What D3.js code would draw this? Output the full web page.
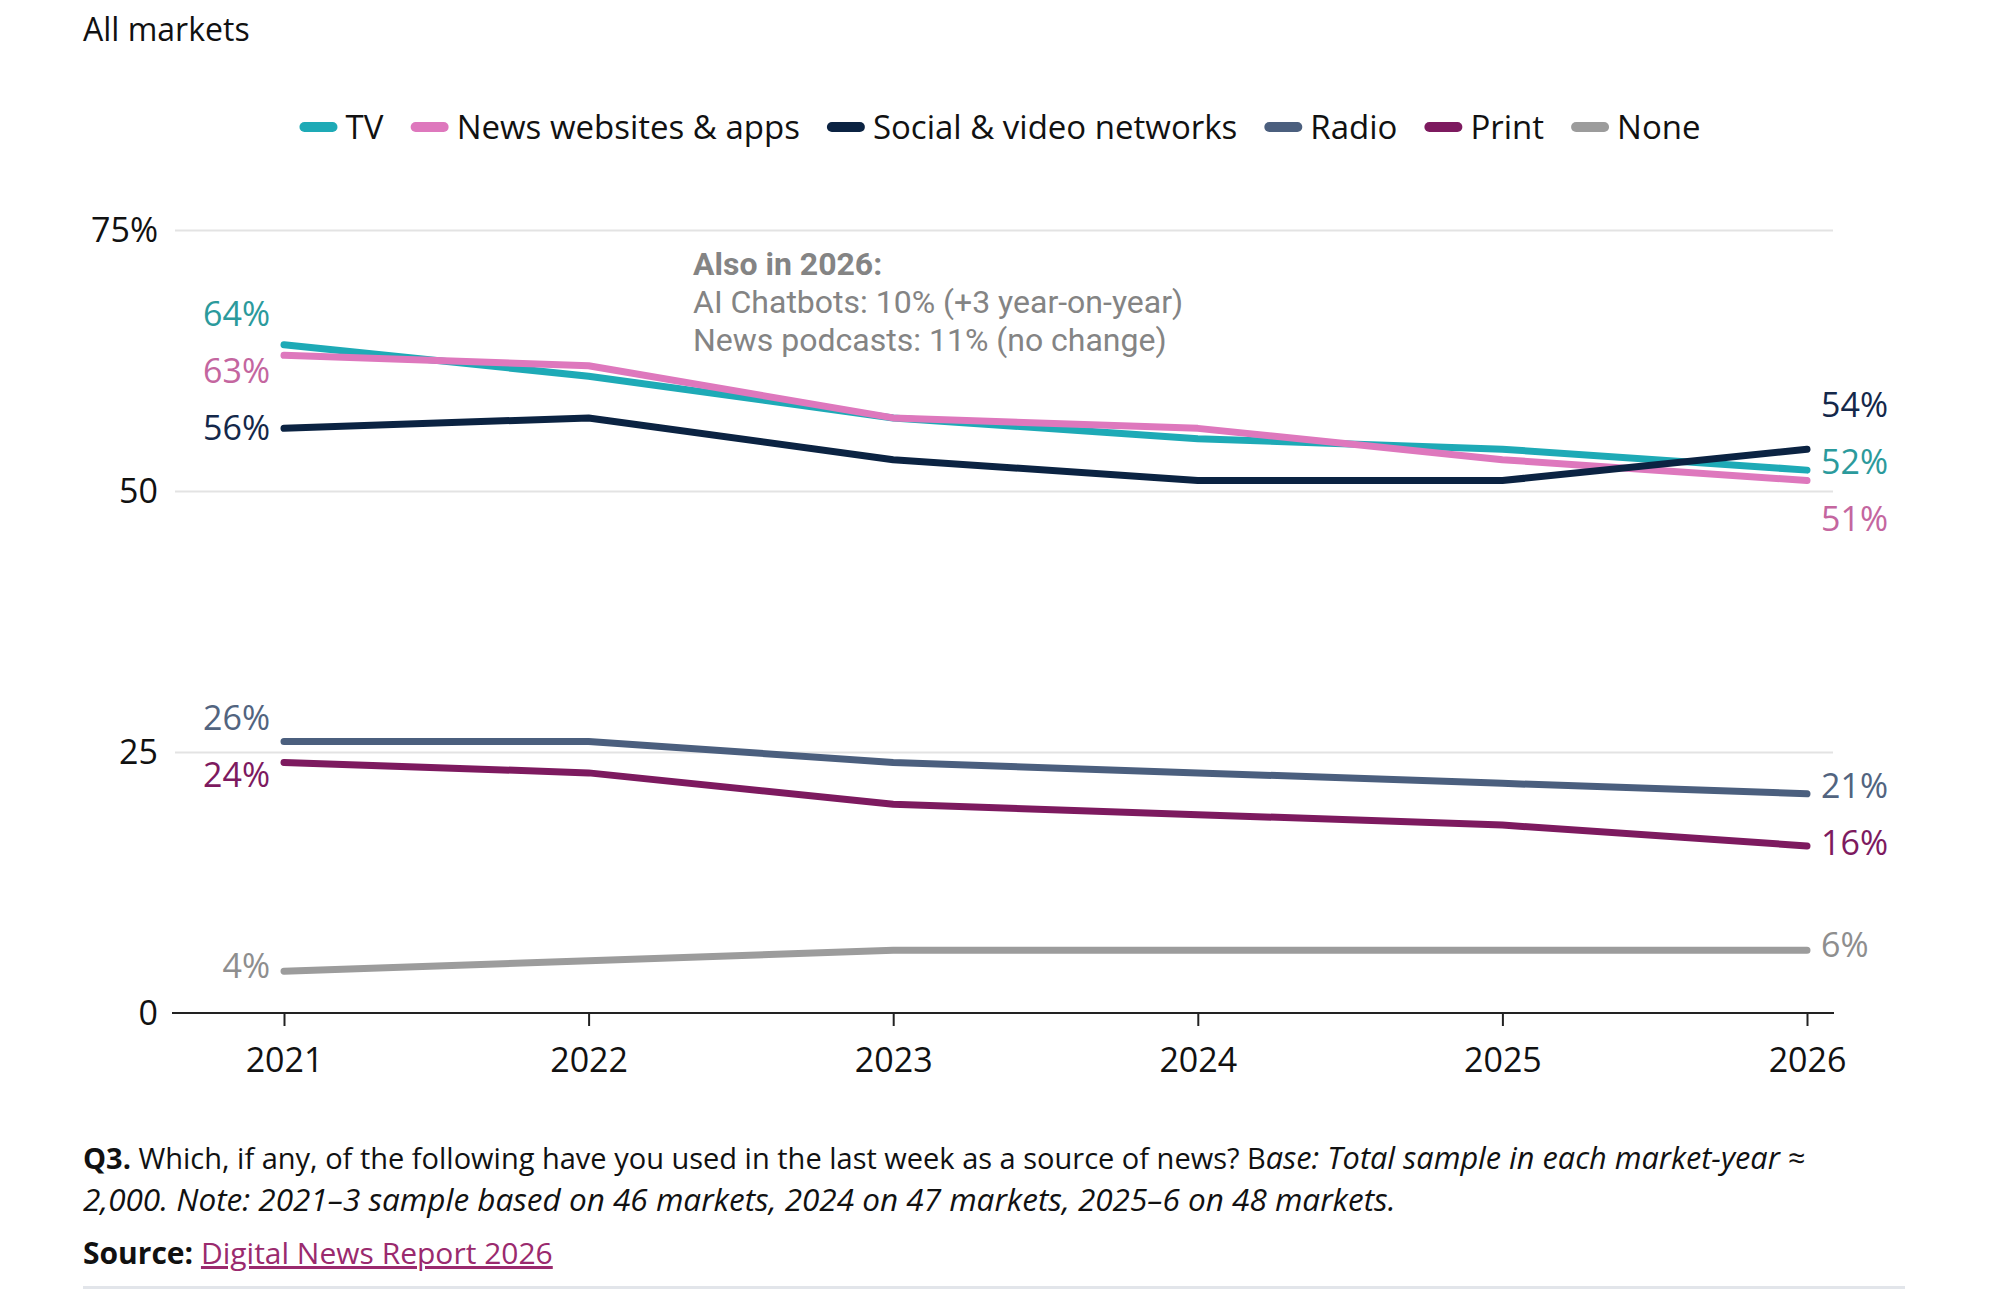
<!DOCTYPE html>
<html>
<head>
  <meta charset="utf-8">
  <style type="text/css">
	body {
		margin: 0;
		background: #fff;
		font-family: "Open Sans", "Noto Sans", sans-serif;
	}
	.grid line {
		stroke: #e3e3e3;
		stroke-width: 2;
	}
	.grid .domain {
		display: none;
	}
	.axis text {
		font-size: 34px;
		fill: #111;
	}
	</style>
</head>
<body>
<svg width="2000" height="1306"></svg>
<script src="https://d3js.org/d3.v7.min.js"></script>
<script>
		// data
		var years = [2021, 2022, 2023, 2024, 2025, 2026];
		var seriesNames = ["TV", "News websites & apps", "Social & video networks", "Radio", "Print", "None"];
		var tv = [64, 61, 57, 55, 54, 52];
		var newsSites = [63, 62, 57, 56, 53, 51];
		var social = [56, 57, 53, 51, 51, 54];
		var radio = [26, 26, 24, 23, 22, 21];
		var print = [24, 23, 20, 19, 18, 16];
		var none = [4, 5, 6, 6, 6, 6];
		var yTicks = [0, 25, 50, 75];
		var lineColors = ["#1eaab6", "#de78bd", "#0b2342", "#4b5f7e", "#7d1a5f", "#9c9c9c"];
		var labelColors = ["#2b9a9c", "#c4669f", "#14284a", "#52647f", "#7d1a5f", "#8e8e8e"];
		var notes = ["Also in 2026:", "AI Chatbots: 10% (+3 year-on-year)", "News podcasts: 11% (no change)"];

		var values = [tv, newsSites, social, radio, print, none];
		var series = seriesNames.map(function(name, i) {
			return {name: name, values: values[i], color: lineColors[i], labelColor: labelColors[i]};
		});

		var svg = d3.select("svg");

		var x = d3.scalePoint()
				.domain(years)
				.range([284, 1807]);

		var y = d3.scaleLinear()
				.domain([0, 75])
				.range([1013, 230]);

		// title
		svg.append("text")
				.attr("x", 83)
				.attr("y", 41)
				.attr("font-size", 32)
				.attr("fill", "#111")
				.text("All markets");

		// legend, centred on the page
		var legend = svg.append("g")
				.attr("font-size", 33)
				.attr("fill", "#111");
		var lx = 0;
		var items = legend.selectAll("g")
			.data(series)
			.enter().append("g");
		items.append("rect")
				.attr("y", -5)
				.attr("width", 38)
				.attr("height", 10)
				.attr("rx", 5)
				.attr("fill", function(d) { return d.color; });
		items.append("text")
				.attr("x", 46)
				.attr("dy", "0.35em")
				.text(function(d) { return d.name; });
		items.each(function() {
			var w = this.getBBox().width;
			d3.select(this).attr("transform", "translate(" + lx + ",0)");
			lx += w + 27;
		});
		lx -= 27;
		legend.attr("transform", "translate(" + (1000 - lx / 2) + ",127)");

		// gridlines
		svg.append("g")
				.attr("class", "grid")
				.attr("transform", "translate(175,0)")
				.call(d3.axisLeft(y).tickValues(yTicks.slice(1)).tickSize(-1658).tickFormat(""));

		// y tick labels
		svg.append("g")
				.attr("class", "axis")
				.selectAll("text")
			.data(yTicks)
			.enter().append("text")
				.attr("x", 158)
				.attr("y", function(d) { return y(d); })
				.attr("dy", "0.35em")
				.attr("text-anchor", "end")
				.text(function(d) { return d === 75 ? d + "%" : d; });

		// x axis
		var xAxis = svg.append("g")
				.attr("class", "axis")
				.attr("transform", "translate(0," + y(0) + ")")
				.call(d3.axisBottom(x).tickSize(13).tickPadding(22).tickSizeOuter(0));
		xAxis.select(".domain")
				.attr("d", "M172,0H1834")
				.attr("stroke", "#222")
				.attr("stroke-width", 2);
		xAxis.selectAll(".tick line")
				.attr("stroke", "#222")
				.attr("stroke-width", 2);
		xAxis.selectAll(".tick text")
				.attr("font-family", "'Open Sans', sans-serif");

		// annotation (tighter font so the three lines don't collide)
		svg.append("g")
				.attr("font-family", "Roboto, sans-serif")
				.attr("font-size", 32)
				.attr("fill", "#848484")
				.selectAll("text")
			.data(notes)
			.enter().append("text")
				.attr("x", 693)
				.attr("y", function(d, i) { return 264 + i * 38; })
				.attr("dy", "0.35em")
				.attr("font-weight", function(d, i) { return i === 0 ? "bold" : null; })
				.text(function(d) { return d; });

		// lines
		var line = d3.line()
				.x(function(d, i) { return x(years[i]); })
				.y(function(d) { return y(d); });

		svg.append("g")
				.selectAll("path")
			.data(series)
			.enter().append("path")
				.attr("d", function(d) { return line(d.values); })
				.attr("fill", "none")
				.attr("stroke", function(d) { return d.color; })
				.attr("stroke-width", 7)
				.attr("stroke-linecap", "round")
				.attr("stroke-linejoin", "round");

		// end labels, spread apart when they collide
		function dodge(labels, gap) {
			labels.sort(function(a, b) { return a.y - b.y; });
			for (var k = 0; k < 60; k++) {
				for (var i = 1; i < labels.length; i++) {
					var over = gap - (labels[i].y - labels[i - 1].y);
					if (over > 0) {
						labels[i - 1].y -= over / 2;
						labels[i].y += over / 2;
					}
				}
			}
			return labels;
		}

		function endLabels(index, xPos, anchor) {
			var labels = series.map(function(s) {
				return {text: s.values[index] + "%", y: y(s.values[index]), color: s.labelColor};
			});
			svg.append("g")
					.attr("font-size", 34)
					.attr("text-anchor", anchor)
					.selectAll("text")
				.data(dodge(labels, 57))
				.enter().append("text")
					.attr("x", xPos)
					.attr("y", function(d) { return d.y - 5; })
					.attr("dy", "0.35em")
					.attr("fill", function(d) { return d.color; })
					.text(function(d) { return d.text; });
		}
		endLabels(0, x(years[0]) - 14, "end");
		endLabels(years.length - 1, x(years[years.length - 1]) + 14, "start");

		// footnote
		var foot = svg.append("g")
				.attr("font-size", 30)
				.attr("fill", "#111");
		var l1 = foot.append("text").attr("x", 83).attr("y", 1169).attr("font-size", 29);
		l1.append("tspan").attr("font-weight", "bold").text("Q3.");
		l1.append("tspan").text(" Which, if any, of the following have you used in the last week as a source of news? B");
		l1.append("tspan").attr("font-style", "italic").attr("font-size", 30.7).text("ase: Total sample in each market-year \u2248");
		foot.append("text")
				.attr("x", 83)
				.attr("y", 1211)
				.attr("font-style", "italic")
				.attr("font-size", 31.5)
				.text("2,000. Note: 2021\u20133 sample based on 46 markets, 2024 on 47 markets, 2025\u20136 on 48 markets.");
		var l3 = foot.append("text").attr("x", 83).attr("y", 1264);
		l3.append("tspan").attr("font-weight", "bold").text("Source: ");
		l3.append("tspan")
				.attr("fill", "#9a2a6e")
				.attr("text-decoration", "underline")
				.text("Digital News Report 2026");

		svg.append("rect")
				.attr("x", 83)
				.attr("y", 1286)
				.attr("width", 1822)
				.attr("height", 3)
				.attr("fill", "#e2e5ea");
</script>
</body>
</html>
